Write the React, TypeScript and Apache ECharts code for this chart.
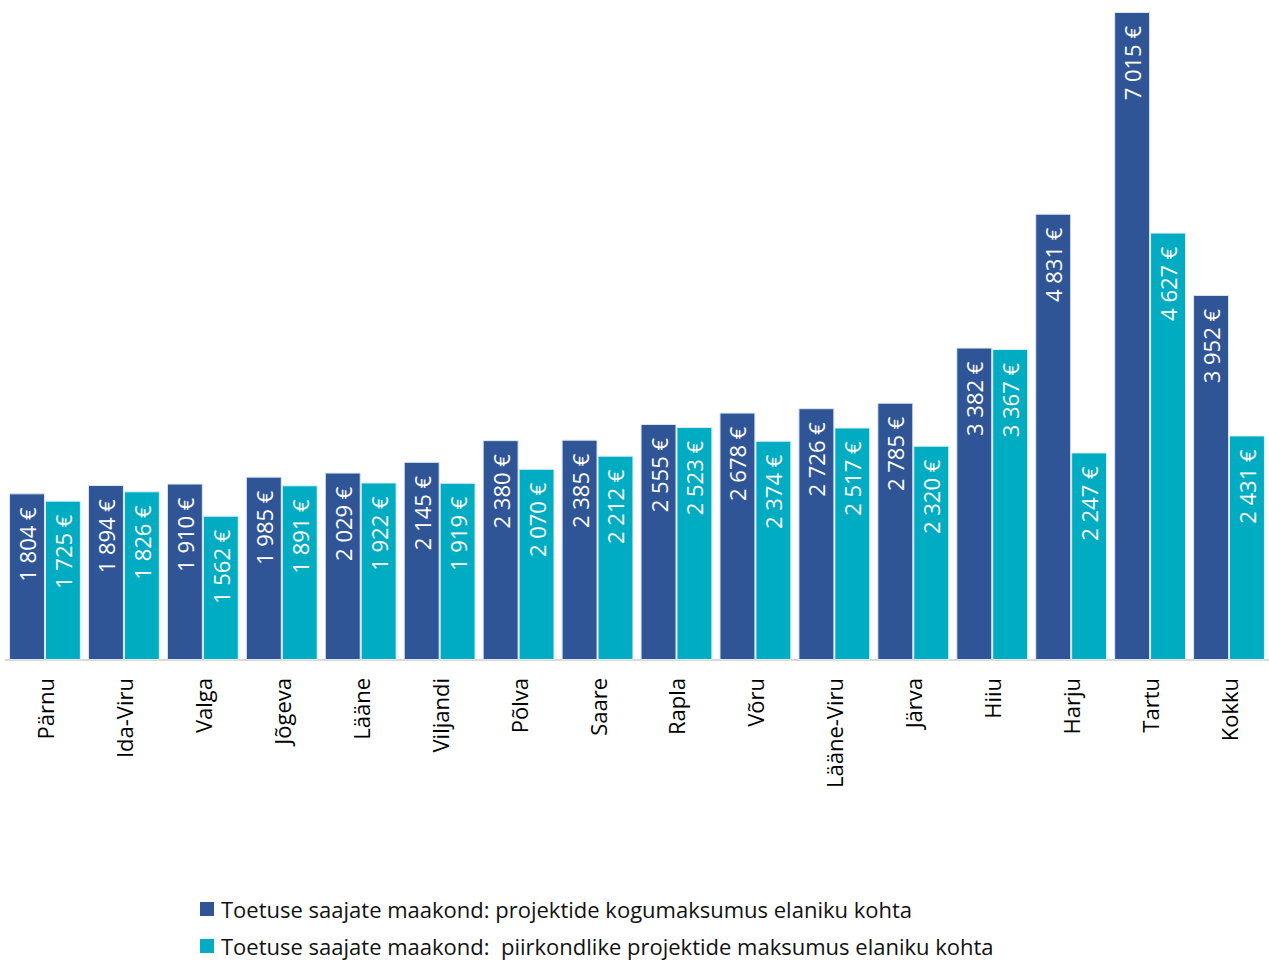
import React, { useEffect, useRef } from "react";
import * as echarts from "echarts";

const categories = ["Pärnu", "Ida-Viru", "Valga", "Jõgeva", "Lääne", "Viljandi", "Põlva", "Saare", "Rapla", "Võru", "Lääne-Viru", "Järva", "Hiiu", "Harju", "Tartu", "Kokku"];
const totalCost = [1804, 1894, 1910, 1985, 2029, 2145, 2380, 2385, 2555, 2678, 2726, 2785, 3382, 4831, 7015, 3952];
const crossBorderCost = [1725, 1826, 1562, 1891, 1922, 1919, 2070, 2212, 2523, 2374, 2517, 2320, 3367, 2247, 4627, 2431];
const seriesNames = [
  "Toetuse saajate maakond: projektide kogumaksumus elaniku kohta",
  "Toetuse saajate maakond:  piirkondlike projektide maksumus elaniku kohta",
];

const fmt = (v: number) => {
  const s = String(Math.round(v));
  return s.replace(/\B(?=(\d{3})+(?!\d))/g, " ") + " €";
};

const FONT = "'Open Sans', 'Noto Sans', sans-serif";

export default function App() {
  const ref = useRef<HTMLDivElement>(null);
  useEffect(() => {
    if (!ref.current) return;
    const chart = echarts.init(ref.current, null, { renderer: "svg" });
    const label = {
      show: true,
      position: "insideTop" as const,
      rotate: 90,
      align: "right" as const,
      verticalAlign: "middle" as const,
      distance: 14,
      color: "#ffffff",
      fontSize: 22,
      fontFamily: FONT,
      formatter: (p: any) => fmt(p.value),
    };
    const legendBase = {
      left: 200,
      padding: 0,
      itemWidth: 14,
      itemHeight: 14,
      itemGap: 4,
      icon: "rect",
      itemStyle: { borderWidth: 0 },
      textStyle: { fontSize: 22, lineHeight: 24, color: "#111", fontFamily: FONT, padding: [0, 0, 0, 2] },
    };
    chart.setOption({
      animation: false,
      grid: { left: 5.5, right: 0.5, top: 12, bottom: 300, containLabel: false },
      legend: [
        { ...legendBase, top: 897, data: [seriesNames[0]] },
        { ...legendBase, top: 934, data: [seriesNames[1]] },
      ],
      xAxis: {
        type: "category",
        data: categories,
        axisLine: { lineStyle: { color: "#d9d9d9", width: 2 } },
        axisTick: { show: false },
        axisLabel: { rotate: 90, fontSize: 22, color: "#000", fontFamily: FONT, margin: 18, interval: 0 },
      },
      yAxis: {
        type: "value",
        min: 0,
        max: 7015,
        show: false,
        splitLine: { show: false },
      },
      series: [
        {
          name: seriesNames[0],
          type: "bar",
          data: totalCost,
          barGap: "0%",
          barCategoryGap: "9%",
          itemStyle: { color: "#2F5597", borderColor: "#dce6f2", borderWidth: 1 },
          label,
        },
        {
          name: seriesNames[1],
          type: "bar",
          data: crossBorderCost,
          itemStyle: { color: "#00ACC1", borderColor: "#dcefff", borderWidth: 1 },
          label,
        },
      ],
    });
    return () => chart.dispose();
  }, []);
  return <div ref={ref} style={{ width: 1269, height: 960, position: "absolute", left: 0, top: 0 }} />;
}
